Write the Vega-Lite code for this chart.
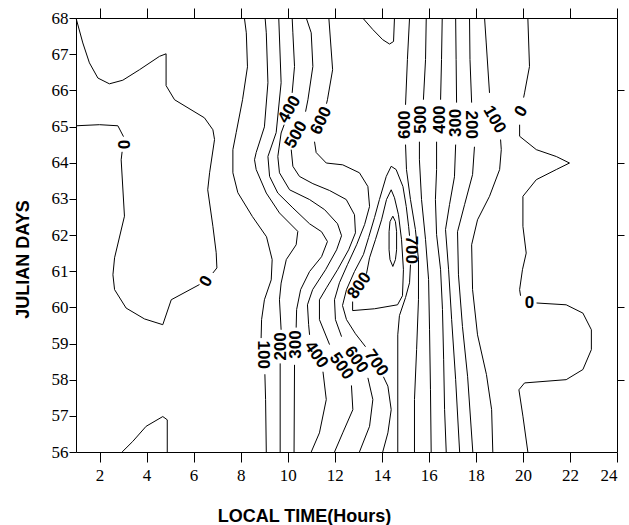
{
"$schema":"https://vega.github.io/schema/vega-lite/v6.json",
"width":541,"height":434,
"autosize":{"type":"none"},
"padding":{"left":76,"top":18,"right":12,"bottom":73},
"background":"white",
"config":{"view":{"stroke":null},"axis":{"domainColor":"black","tickColor":"black","labelColor":"black","titleColor":"black","grid":false,"labelFont":"Liberation Sans Narrow","labelFontSize":17,"domainWidth":1,"tickWidth":1}},
"datasets":{
"lines":[
{"g":1,"x":1,"y":68},{"g":1,"x":1.29,"y":67.31},{"g":1,"x":1.57,"y":66.76},{"g":1,"x":1.93,"y":66.34},{"g":1,"x":2.42,"y":66.18},{"g":1,"x":2.99,"y":66.28},{"g":1,"x":3.7,"y":66.57},{"g":1,"x":4.55,"y":66.94},{"g":1,"x":4.83,"y":67.01},{"g":1,"x":4.83,"y":66.13},{"g":1,"x":5.19,"y":65.74},{"g":1,"x":6.46,"y":65.24},{"g":1,"x":6.82,"y":64.91},{"g":1,"x":6.89,"y":64.64},{"g":1,"x":6.68,"y":63.72},{"g":1,"x":6.6,"y":63.25},{"g":1,"x":6.82,"y":62.24},{"g":1,"x":6.96,"y":61.51},{"g":1,"x":6.99,"y":61.09},{"g":1,"x":6.82,"y":60.95},
{"g":2,"x":6.25,"y":60.63},{"g":2,"x":5.05,"y":60.21},{"g":2,"x":4.69,"y":59.52},{"g":2,"x":3.91,"y":59.68},{"g":2,"x":3.13,"y":59.98},{"g":2,"x":2.64,"y":60.49},{"g":2,"x":2.57,"y":60.9},{"g":2,"x":2.64,"y":61.37},{"g":2,"x":3.06,"y":62.52},{"g":2,"x":2.92,"y":64.08},{"g":2,"x":2.96,"y":64.3},
{"g":3,"x":3.02,"y":64.72},{"g":3,"x":2.78,"y":65.02},{"g":3,"x":2,"y":65.05},{"g":3,"x":1,"y":65.02},
{"g":4,"x":2.96,"y":56},{"g":4,"x":3.41,"y":56.29},{"g":4,"x":3.98,"y":56.71},{"g":4,"x":4.69,"y":56.98},{"g":4,"x":4.88,"y":56.89},{"g":4,"x":4.88,"y":56},
{"g":5,"x":8.16,"y":68},{"g":5,"x":8.24,"y":67.59},{"g":5,"x":8.29,"y":66.65},{"g":5,"x":8.08,"y":65.74},{"g":5,"x":7.81,"y":64.83},{"g":5,"x":7.67,"y":64.36},{"g":5,"x":7.67,"y":63.72},{"g":5,"x":7.88,"y":63.17},{"g":5,"x":8.5,"y":62.51},{"g":5,"x":9.1,"y":61.95},{"g":5,"x":9.34,"y":61.32},{"g":5,"x":9.3,"y":60.76},{"g":5,"x":9.01,"y":60.21},{"g":5,"x":8.89,"y":59.66},{"g":5,"x":8.87,"y":59.15},
{"g":6,"x":9.03,"y":58.15},{"g":6,"x":9.06,"y":57.45},{"g":6,"x":9.09,"y":56},
{"g":7,"x":9.04,"y":68},{"g":7,"x":9.09,"y":67.59},{"g":7,"x":9.16,"y":66.21},{"g":7,"x":9.01,"y":64.99},{"g":7,"x":8.66,"y":64.28},{"g":7,"x":8.59,"y":64.08},{"g":7,"x":8.66,"y":63.81},{"g":7,"x":9.09,"y":63.16},{"g":7,"x":9.65,"y":62.61},{"g":7,"x":10.43,"y":62.1},{"g":7,"x":10.36,"y":61.73},{"g":7,"x":9.94,"y":61.32},{"g":7,"x":9.72,"y":60.67},{"g":7,"x":9.65,"y":60.21},{"g":7,"x":9.72,"y":59.38},
{"g":8,"x":9.68,"y":58.45},{"g":8,"x":9.68,"y":56},
{"g":9,"x":9.62,"y":68},{"g":9,"x":9.72,"y":66.21},{"g":9,"x":9.51,"y":64.83},{"g":9,"x":9.16,"y":64.17},{"g":9,"x":9.23,"y":63.62},{"g":9,"x":9.58,"y":63.16},{"g":9,"x":10.22,"y":62.75},{"g":9,"x":10.93,"y":62.31},{"g":9,"x":11.44,"y":62.09},{"g":9,"x":11.69,"y":61.82},{"g":9,"x":11.44,"y":61.4},{"g":9,"x":10.93,"y":60.99},{"g":9,"x":10.55,"y":60.49},{"g":9,"x":10.38,"y":59.94},{"g":9,"x":10.36,"y":59.44},
{"g":10,"x":10.29,"y":58.41},{"g":10,"x":10.27,"y":56},
{"g":11,"x":10.19,"y":68},{"g":11,"x":10.22,"y":67.59},{"g":11,"x":10.29,"y":66.66},{"g":11,"x":10.19,"y":65.93},
{"g":12,"x":9.85,"y":65.05},{"g":12,"x":9.72,"y":64.82},{"g":12,"x":9.58,"y":64.17},{"g":12,"x":9.65,"y":63.72},{"g":12,"x":10.08,"y":63.25},{"g":12,"x":10.93,"y":62.98},{"g":12,"x":11.57,"y":62.7},{"g":12,"x":12.12,"y":62.31},{"g":12,"x":12.29,"y":61.98},{"g":12,"x":12.08,"y":61.59},{"g":12,"x":11.61,"y":61.04},{"g":12,"x":11.06,"y":60.49},{"g":12,"x":10.84,"y":60.07},{"g":12,"x":10.89,"y":59.52},{"g":12,"x":10.93,"y":59.24},
{"g":13,"x":11.5,"y":58.22},{"g":13,"x":11.64,"y":57.45},{"g":13,"x":11.35,"y":56.53},{"g":13,"x":11,"y":56},
{"g":14,"x":10.79,"y":68},{"g":14,"x":11,"y":67.59},{"g":14,"x":11.07,"y":66.66},{"g":14,"x":10.86,"y":65.74},{"g":14,"x":10.76,"y":65.41},
{"g":15,"x":10.15,"y":64.36},{"g":15,"x":10.22,"y":63.9},{"g":15,"x":10.5,"y":63.62},{"g":15,"x":11.07,"y":63.42},{"g":15,"x":11.78,"y":63.23},{"g":15,"x":12.49,"y":62.98},{"g":15,"x":12.84,"y":62.56},{"g":15,"x":12.88,"y":62.06},{"g":15,"x":12.59,"y":61.59},{"g":15,"x":12.12,"y":61.04},{"g":15,"x":11.65,"y":60.54},{"g":15,"x":11.35,"y":60.21},{"g":15,"x":11.35,"y":59.66},{"g":15,"x":11.78,"y":58.97},
{"g":16,"x":12.71,"y":57.84},{"g":16,"x":12.77,"y":57.17},{"g":16,"x":12.34,"y":56.53},{"g":16,"x":11.99,"y":56},
{"g":17,"x":11.75,"y":68},{"g":17,"x":11.91,"y":66.57},{"g":17,"x":11.69,"y":65.74},{"g":17,"x":11.65,"y":65.63},
{"g":18,"x":11.14,"y":64.58},{"g":18,"x":11.21,"y":64.28},{"g":18,"x":11.64,"y":63.99},{"g":18,"x":12.34,"y":63.94},{"g":18,"x":13.05,"y":63.72},{"g":18,"x":13.41,"y":63.34},{"g":18,"x":13.48,"y":62.79},{"g":18,"x":13.27,"y":62.29},{"g":18,"x":12.93,"y":61.73},{"g":18,"x":12.54,"y":61.18},{"g":18,"x":12.2,"y":60.68},{"g":18,"x":11.99,"y":60.21},{"g":18,"x":12.03,"y":59.66},{"g":18,"x":12.29,"y":59.19},
{"g":19,"x":13.41,"y":58.05},{"g":19,"x":13.62,"y":57.45},{"g":19,"x":13.48,"y":56.71},{"g":19,"x":13.05,"y":56},
{"g":20,"x":13.31,"y":58.91},{"g":20,"x":12.88,"y":59.27},{"g":20,"x":12.5,"y":59.66},{"g":20,"x":12.33,"y":60.05},{"g":20,"x":12.5,"y":60.49},{"g":20,"x":12.84,"y":60.99},{"g":20,"x":13.22,"y":61.46},{"g":20,"x":13.44,"y":61.93},{"g":20,"x":13.69,"y":62.48},{"g":20,"x":13.9,"y":62.98},{"g":20,"x":14.19,"y":63.62},{"g":20,"x":14.4,"y":63.9},{"g":20,"x":14.61,"y":63.81},{"g":20,"x":14.9,"y":63.34},{"g":20,"x":15.04,"y":62.79},{"g":20,"x":15.14,"y":62.24},{"g":20,"x":15.18,"y":61.98},
{"g":21,"x":15.22,"y":61.18},{"g":21,"x":15.18,"y":60.68},{"g":21,"x":15.01,"y":60.27},{"g":21,"x":14.75,"y":59.77},{"g":21,"x":14.68,"y":59.24},{"g":21,"x":14.68,"y":56},
{"g":22,"x":14.04,"y":56},{"g":22,"x":14.26,"y":56.53},{"g":22,"x":14.4,"y":57.17},{"g":22,"x":14.26,"y":57.82},{"g":22,"x":14.07,"y":58.08},
{"g":23,"x":12.76,"y":60.16},{"g":23,"x":12.76,"y":59.91},{"g":23,"x":13.69,"y":59.96},{"g":23,"x":14.67,"y":60.07},{"g":23,"x":14.88,"y":60.32},{"g":23,"x":14.92,"y":61.04},{"g":23,"x":14.84,"y":61.87},{"g":23,"x":14.71,"y":62.56},{"g":23,"x":14.54,"y":63.03},{"g":23,"x":14.4,"y":63.25},{"g":23,"x":14.2,"y":62.98},{"g":23,"x":13.99,"y":62.42},{"g":23,"x":13.73,"y":61.87},{"g":23,"x":13.48,"y":61.37},{"g":23,"x":13.35,"y":60.93},
{"g":24,"x":14.47,"y":62.52},{"g":24,"x":14.58,"y":62.37},{"g":24,"x":14.63,"y":62.09},{"g":24,"x":14.63,"y":61.59},{"g":24,"x":14.58,"y":61.32},{"g":24,"x":14.47,"y":61.13},{"g":24,"x":14.35,"y":61.32},{"g":24,"x":14.31,"y":61.59},{"g":24,"x":14.31,"y":62.09},{"g":24,"x":14.35,"y":62.37},{"g":24,"x":14.47,"y":62.52},
{"g":25,"x":13.19,"y":68},{"g":25,"x":13.62,"y":67.68},{"g":25,"x":14.04,"y":67.4},{"g":25,"x":14.33,"y":67.28},{"g":25,"x":14.5,"y":67.35},{"g":25,"x":14.54,"y":68},
{"g":26,"x":15.18,"y":68},{"g":26,"x":15.09,"y":66.85},{"g":26,"x":15.01,"y":65.6},
{"g":27,"x":15.01,"y":64.5},{"g":27,"x":15.05,"y":63.81},{"g":27,"x":15.22,"y":62.98},{"g":27,"x":15.43,"y":62.15},{"g":27,"x":15.56,"y":61.32},{"g":27,"x":15.56,"y":60.21},{"g":27,"x":15.48,"y":58.83},{"g":27,"x":15.39,"y":57.45},{"g":27,"x":15.39,"y":56},
{"g":28,"x":15.89,"y":68},{"g":28,"x":15.86,"y":66.85},{"g":28,"x":15.77,"y":65.74},
{"g":29,"x":15.6,"y":64.58},{"g":29,"x":15.6,"y":64.08},{"g":29,"x":15.69,"y":62.98},{"g":29,"x":15.86,"y":61.87},{"g":29,"x":15.99,"y":60.77},{"g":29,"x":16.03,"y":59.38},{"g":29,"x":16.07,"y":57.72},{"g":29,"x":16.1,"y":56},
{"g":30,"x":16.57,"y":68},{"g":30,"x":16.54,"y":66.85},{"g":30,"x":16.5,"y":65.74},
{"g":31,"x":16.33,"y":64.58},{"g":31,"x":16.33,"y":63.81},{"g":31,"x":16.28,"y":62.98},{"g":31,"x":16.33,"y":62.01},{"g":31,"x":16.5,"y":61.04},{"g":31,"x":16.58,"y":59.94},{"g":31,"x":16.63,"y":58.55},{"g":31,"x":16.67,"y":57.17},{"g":31,"x":16.74,"y":56},
{"g":32,"x":17.14,"y":68},{"g":32,"x":17.16,"y":66.85},{"g":32,"x":17.18,"y":65.66},
{"g":33,"x":17.14,"y":64.5},{"g":33,"x":17.09,"y":63.61},{"g":33,"x":16.88,"y":62.84},{"g":33,"x":16.71,"y":62.15},{"g":33,"x":16.84,"y":61.04},{"g":33,"x":16.97,"y":59.66},{"g":33,"x":17.14,"y":58},{"g":33,"x":17.31,"y":56},
{"g":34,"x":17.73,"y":68},{"g":34,"x":17.75,"y":66.85},{"g":34,"x":17.82,"y":65.66},
{"g":35,"x":17.94,"y":64.44},{"g":35,"x":17.86,"y":63.67},{"g":35,"x":17.52,"y":62.84},{"g":35,"x":17.22,"y":62.09},{"g":35,"x":17.26,"y":60.9},{"g":35,"x":17.43,"y":59.47},{"g":35,"x":17.65,"y":58.08},{"g":35,"x":17.87,"y":56},
{"g":36,"x":18.37,"y":68},{"g":36,"x":18.44,"y":67.31},{"g":36,"x":18.58,"y":65.93},
{"g":37,"x":19.05,"y":64.64},{"g":37,"x":19.08,"y":64.36},{"g":37,"x":19.01,"y":63.81},{"g":37,"x":18.58,"y":63.07},{"g":37,"x":18.07,"y":62.42},{"g":37,"x":17.82,"y":61.73},{"g":37,"x":17.86,"y":60.49},{"g":37,"x":18.07,"y":59.24},{"g":37,"x":18.45,"y":58.14},{"g":37,"x":18.67,"y":57.17},{"g":37,"x":18.72,"y":56},
{"g":38,"x":20.21,"y":68},{"g":38,"x":20.28,"y":66.66},{"g":38,"x":20.07,"y":65.93},{"g":38,"x":20.03,"y":65.8},
{"g":39,"x":19.86,"y":65.05},{"g":39,"x":19.86,"y":64.73},{"g":39,"x":20.57,"y":64.36},{"g":39,"x":21.42,"y":64.17},{"g":39,"x":21.98,"y":63.99},{"g":39,"x":21.42,"y":63.81},{"g":39,"x":20.57,"y":63.53},{"g":39,"x":20,"y":63.07},{"g":39,"x":20,"y":62.24},{"g":39,"x":20.14,"y":61.5},{"g":39,"x":19.98,"y":61.04},{"g":39,"x":19.86,"y":60.49},{"g":39,"x":19.9,"y":60.32},
{"g":40,"x":20.58,"y":60.12},{"g":40,"x":21.84,"y":60.07},{"g":40,"x":22.55,"y":59.84},{"g":40,"x":22.91,"y":59.38},{"g":40,"x":22.91,"y":58.83},{"g":40,"x":22.55,"y":58.28},{"g":40,"x":21.84,"y":58},{"g":40,"x":20.07,"y":57.91},{"g":40,"x":19.83,"y":57.72},{"g":40,"x":20,"y":56.99},{"g":40,"x":20.21,"y":56}
],
"labels":[
{"t":"0","x":6.54,"y":60.72,"a":-60},
{"t":"0","x":2.99,"y":64.5,"a":90},
{"t":"100","x":8.94,"y":58.69,"a":90},
{"t":"200","x":9.72,"y":58.92,"a":-90},
{"t":"300","x":10.36,"y":58.97,"a":-90},
{"t":"400","x":10.08,"y":65.47,"a":-60},
{"t":"500","x":10.36,"y":64.77,"a":-60},
{"t":"600","x":11.43,"y":65.16,"a":-65},
{"t":"400","x":11.21,"y":58.69,"a":55},
{"t":"500","x":12.28,"y":58.37,"a":55},
{"t":"600","x":12.91,"y":58.55,"a":55},
{"t":"700","x":13.76,"y":58.46,"a":55},
{"t":"800","x":13.05,"y":60.6,"a":-55},
{"t":"700","x":15.25,"y":61.59,"a":90},
{"t":"600","x":14.97,"y":65.05,"a":-90},
{"t":"500","x":15.68,"y":65.19,"a":-90},
{"t":"400","x":16.46,"y":65.19,"a":-90},
{"t":"300","x":17.17,"y":65.1,"a":-90},
{"t":"200","x":17.8,"y":65.05,"a":90},
{"t":"100","x":18.79,"y":65.19,"a":60},
{"t":"0","x":19.93,"y":65.42,"a":-60},
{"t":"0","x":20.28,"y":60.12,"a":0}
]},
"layer":[
{"data":{"name":"lines"},"mark":{"type":"line","color":"black","strokeWidth":1},
"encoding":{
"x":{"field":"x","type":"quantitative","scale":{"domain":[1,24],"nice":false,"zero":false},
"axis":{"orient":"bottom","values":[2,4,6,8,10,12,14,16,18,20,22,24],"tickSize":10,"labelPadding":5,"title":"LOCAL TIME(Hours)","titleFont":"Liberation Sans","titleFontSize":18,"titleFontWeight":"bold","titleX":228,"titleY":69,"titleAlign":"center","titleBaseline":"alphabetic"}},
"y":{"field":"y","type":"quantitative","scale":{"domain":[56,68],"nice":false,"zero":false},
"axis":{"orient":"left","values":[56,57,58,59,60,61,62,63,64,65,66,67,68],"tickSize":7,"labelPadding":1,"title":"JULIAN DAYS","titleFont":"Liberation Sans","titleFontSize":18,"titleFontWeight":"bold","titleX":-48,"titleY":241,"titleAngle":-90,"titleAlign":"center","titleBaseline":"alphabetic"}},
"detail":{"field":"g","type":"nominal"},
"order":{"value":null}}},
{"data":{"name":"labels"},"mark":{"type":"text","font":"Liberation Sans","fontWeight":"bold","fontSize":17,"color":"black","align":"center","baseline":"middle"},
"encoding":{
"x":{"field":"x","type":"quantitative","axis":null},
"y":{"field":"y","type":"quantitative","axis":null},
"text":{"field":"t","type":"nominal"},
"angle":{"field":"a","type":"quantitative","scale":null}}},
{"data":{"name":"lines"},"mark":{"type":"point","opacity":0},
"encoding":{
"x":{"field":"x","type":"quantitative","axis":{"orient":"top","values":[2,4,6,8,10,12,14,16,18,20,22,24],"tickSize":10,"labels":false,"title":null}},
"y":{"field":"y","type":"quantitative","axis":{"orient":"right","values":[58,60,62,64,66],"tickSize":7,"labels":false,"title":null}}}}
]
}
